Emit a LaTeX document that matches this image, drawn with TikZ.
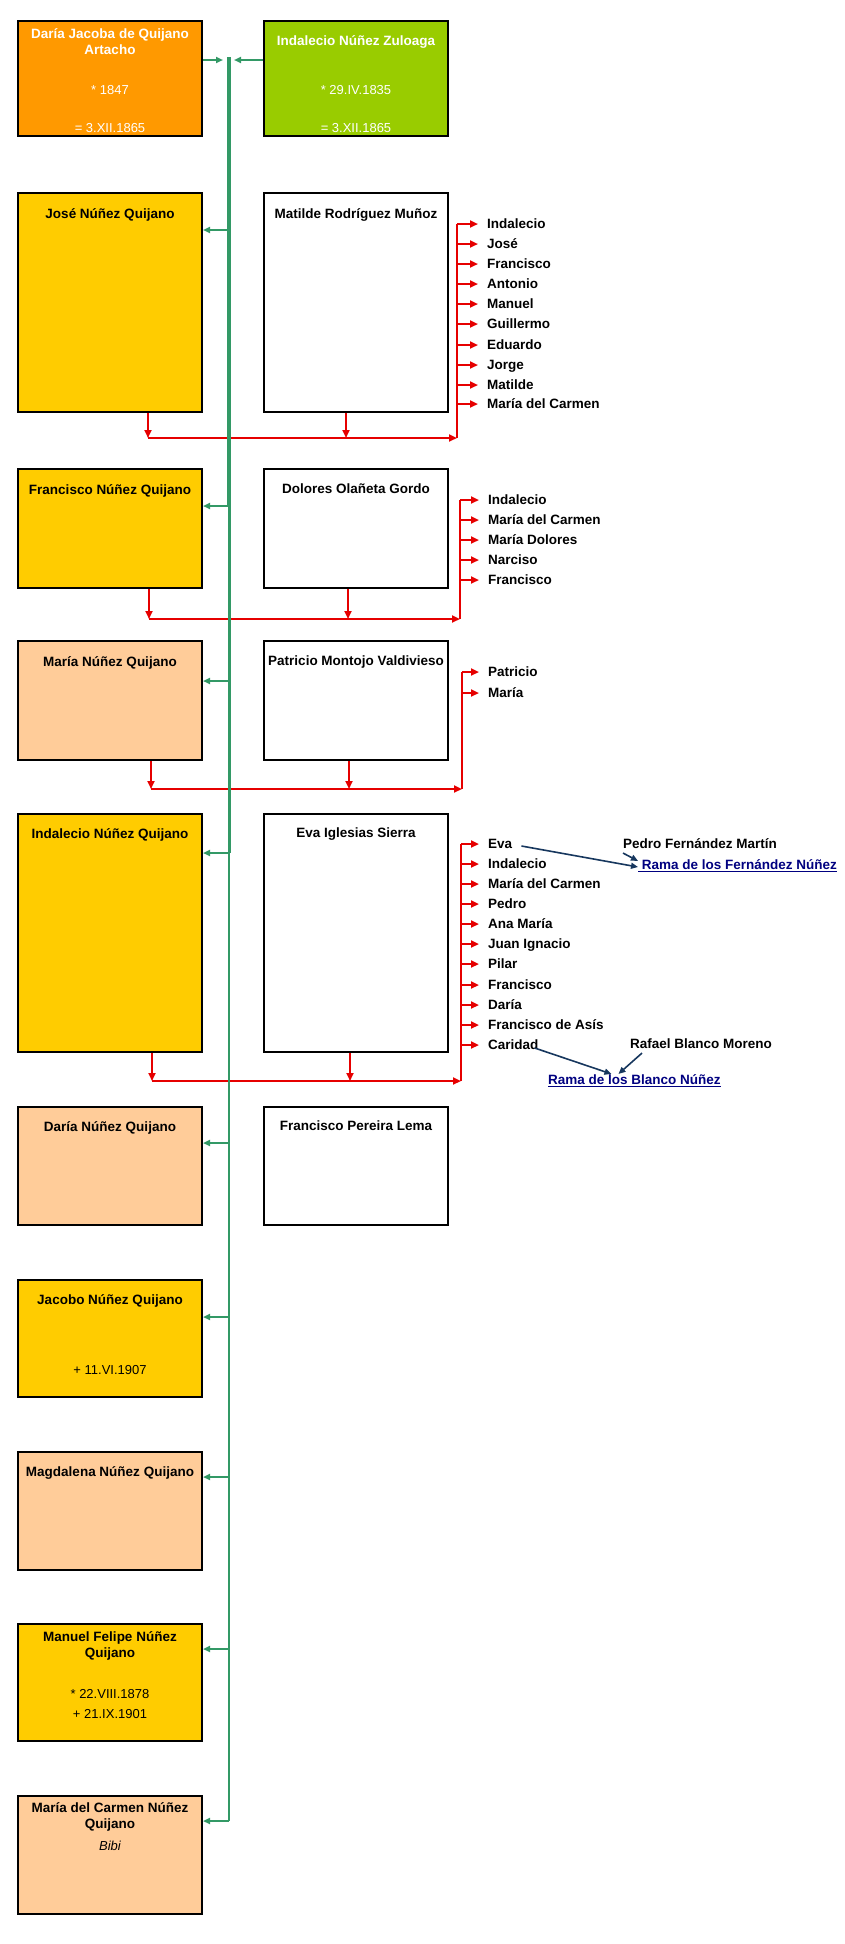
\documentclass[tikz,border=0pt]{standalone}
\usepackage{fontspec}
\setmainfont{Liberation Sans}
\usetikzlibrary{arrows.meta}

\definecolor{orangebox}{HTML}{FF9900}
\definecolor{limebox}{HTML}{99CC00}
\definecolor{sonbox}{HTML}{FFCC00}
\definecolor{daughterbox}{HTML}{FFCC99}
\definecolor{trunkgreen}{HTML}{339966}
\definecolor{famred}{HTML}{E60000}
\definecolor{navyline}{HTML}{17375E}
\definecolor{linkblue}{HTML}{000080}

\newcommand{\boxnamefont}{\fontsize{13.5}{16}\selectfont\bfseries}
\newcommand{\boxdatefont}{\fontsize{13}{16}\selectfont}

\tikzset{
  person/.style={draw=black, line width=2, anchor=north west, minimum width=184, inner sep=0},
  nametext/.style={anchor=north, inner sep=0, align=center, font=\boxnamefont},
  datetext/.style={anchor=base, inner sep=0, font=\boxdatefont},
  kidname/.style={anchor=west, inner sep=0, text height=9.7, text depth=0, font=\boxnamefont},
  linktext/.style={kidname, text=linkblue},
  trunk/.style={trunkgreen, line width=2},
  kid/.style={trunk, -{Triangle[length=7,width=6]}},
  fam/.style={famred, line width=2},
  famarr/.style={fam, -{Triangle[length=8,width=7]}},
  wed/.style={navyline, line width=1.6, -{Triangle[length=7,width=6]}}
}

\begin{document}
\begin{tikzpicture}[x=1pt, y=-1pt]
\useasboundingbox (0,0) rectangle (845,1944);
%Parents
\node[person, fill=orangebox, minimum height=115] (dariaJ) at (17,20) {};
\node[person, fill=limebox, minimum height=115] (indalZ) at (263,20) {};
\node[nametext, text=white] (dariaJ-n) at ([yshift=-8]dariaJ.north) {Daría Jacoba de Quijano\\Artacho};
\node[datetext, text=white] (dariaJ-b) at ([yshift=-74]dariaJ.north) {* 1847};
\node[datetext, text=white] (dariaJ-w) at ([yshift=-112]dariaJ.north) {= 3.XII.1865};
\node[nametext, text=white] (indalZ-n) at ([yshift=-15]indalZ.north) {Indalecio Núñez Zuloaga};
\node[datetext, text=white] (indalZ-b) at ([yshift=-74]indalZ.north) {* 29.IV.1835};
\node[datetext, text=white] (indalZ-w) at ([yshift=-112]indalZ.north) {= 3.XII.1865};
%Children and spouses
\node[person, fill=sonbox, minimum height=219] (jose) at (17,192) {};
\node[person, fill=white, minimum height=219] (matilde) at (263,192) {};
\node[person, fill=sonbox, minimum height=119] (francisco) at (17,468) {};
\node[person, fill=white, minimum height=119] (dolores) at (263,468) {};
\node[person, fill=daughterbox, minimum height=119] (maria) at (17,640) {};
\node[person, fill=white, minimum height=119] (patricio) at (263,640) {};
\node[person, fill=sonbox, minimum height=238] (indalecio) at (17,813) {};
\node[person, fill=white, minimum height=238] (eva) at (263,813) {};
\node[person, fill=daughterbox, minimum height=118] (dariaN) at (17,1106) {};
\node[person, fill=white, minimum height=118] (pereira) at (263,1106) {};
\node[person, fill=sonbox, minimum height=117] (jacobo) at (17,1279) {};
\node[person, fill=daughterbox, minimum height=118] (magdalena) at (17,1451) {};
\node[person, fill=sonbox, minimum height=117] (manuel) at (17,1623) {};
\node[person, fill=daughterbox, minimum height=118] (carmen) at (17,1795) {};
%Text
\node[nametext] (jose-n) at ([yshift=-16]jose.north) {José Núñez Quijano};
\node[nametext] (matilde-n) at ([yshift=-16]matilde.north) {Matilde Rodríguez Muñoz};
\node[nametext] (francisco-n) at ([yshift=-16]francisco.north) {Francisco Núñez Quijano};
\node[nametext] (dolores-n) at ([yshift=-16]dolores.north) {Dolores Olañeta Gordo};
\node[nametext] (maria-n) at ([yshift=-16]maria.north) {María Núñez Quijano};
\node[nametext] (patricio-n) at ([yshift=-16]patricio.north) {Patricio Montojo Valdivieso};
\node[nametext] (indalecio-n) at ([yshift=-15]indalecio.north) {Indalecio Núñez Quijano};
\node[nametext] (eva-n) at ([yshift=-15]eva.north) {Eva Iglesias Sierra};
\node[nametext] (dariaN-n) at ([yshift=-15]dariaN.north) {Daría Núñez Quijano};
\node[nametext] (pereira-n) at ([yshift=-15]pereira.north) {Francisco Pereira Lema};
\node[nametext] (jacobo-n) at ([yshift=-15]jacobo.north) {Jacobo Núñez Quijano};
\node[datetext] (jacobo-d) at ([yshift=-95]jacobo.north) {+ 11.VI.1907};
\node[nametext] (magdalena-n) at ([yshift=-15]magdalena.north) {Magdalena Núñez Quijano};
\node[nametext] (manuel-n) at ([yshift=-8]manuel.north) {Manuel Felipe Núñez\\Quijano};
\node[datetext] (manuel-b) at ([yshift=-75]manuel.north) {* 22.VIII.1878};
\node[datetext] (manuel-d) at ([yshift=-95]manuel.north) {+ 21.IX.1901};
\node[nametext] (carmen-n) at ([yshift=-7]carmen.north) {María del Carmen Núñez\\Quijano};
\node[datetext, font=\boxdatefont\itshape] (carmen-a) at ([yshift=-55]carmen.north) {Bibi};
%Families
\coordinate (f2) at (457,438);
\coordinate (f3) at (460,619);
\coordinate (f4) at (462,789);
\coordinate (f5) at (461,1081);
\draw[famarr] ([xshift=38]jose.south) -- ([xshift=38]jose.south |- f2);
\draw[famarr] ([xshift=-10]matilde.south) -- ([xshift=-10]matilde.south |- f2);
\draw[famarr] ([xshift=38]jose.south |- f2) -- (f2);
\draw[famarr] ([xshift=39]francisco.south) -- ([xshift=39]francisco.south |- f3);
\draw[famarr] ([xshift=-8]dolores.south) -- ([xshift=-8]dolores.south |- f3);
\draw[famarr] ([xshift=39]francisco.south |- f3) -- (f3);
\draw[famarr] ([xshift=41]maria.south) -- ([xshift=41]maria.south |- f4);
\draw[famarr] ([xshift=-7]patricio.south) -- ([xshift=-7]patricio.south |- f4);
\draw[famarr] ([xshift=41]maria.south |- f4) -- (f4);
\draw[famarr] ([xshift=42]indalecio.south) -- ([xshift=42]indalecio.south |- f5);
\draw[famarr] ([xshift=-6]eva.south) -- ([xshift=-6]eva.south |- f5);
\draw[famarr] ([xshift=42]indalecio.south |- f5) -- (f5);
%Grandchildren
\node[kidname] (jo1) at (487,224) {Indalecio};
\node[kidname] (jo2) at (487,244) {José};
\node[kidname] (jo3) at (487,264) {Francisco};
\node[kidname] (jo4) at (487,284) {Antonio};
\node[kidname] (jo5) at (487,304) {Manuel};
\node[kidname] (jo6) at (487,324) {Guillermo};
\node[kidname] (jo7) at (487,345) {Eduardo};
\node[kidname] (jo8) at (487,365) {Jorge};
\node[kidname] (jo9) at (487,385) {Matilde};
\node[kidname] (jo10) at (487,404) {María del Carmen};
\draw[fam] (f2) -- (f2 |- jo1.west);
\draw[famarr] (f2 |- jo1.west) -- ([xshift=-9]jo1.west);
\draw[famarr] (f2 |- jo2.west) -- ([xshift=-9]jo2.west);
\draw[famarr] (f2 |- jo3.west) -- ([xshift=-9]jo3.west);
\draw[famarr] (f2 |- jo4.west) -- ([xshift=-9]jo4.west);
\draw[famarr] (f2 |- jo5.west) -- ([xshift=-9]jo5.west);
\draw[famarr] (f2 |- jo6.west) -- ([xshift=-9]jo6.west);
\draw[famarr] (f2 |- jo7.west) -- ([xshift=-9]jo7.west);
\draw[famarr] (f2 |- jo8.west) -- ([xshift=-9]jo8.west);
\draw[famarr] (f2 |- jo9.west) -- ([xshift=-9]jo9.west);
\draw[famarr] (f2 |- jo10.west) -- ([xshift=-9]jo10.west);
\node[kidname] (fr1) at (488,500) {Indalecio};
\node[kidname] (fr2) at (488,520) {María del Carmen};
\node[kidname] (fr3) at (488,540) {María Dolores};
\node[kidname] (fr4) at (488,560) {Narciso};
\node[kidname] (fr5) at (488,580) {Francisco};
\draw[fam] (f3) -- (f3 |- fr1.west);
\draw[famarr] (f3 |- fr1.west) -- ([xshift=-9]fr1.west);
\draw[famarr] (f3 |- fr2.west) -- ([xshift=-9]fr2.west);
\draw[famarr] (f3 |- fr3.west) -- ([xshift=-9]fr3.west);
\draw[famarr] (f3 |- fr4.west) -- ([xshift=-9]fr4.west);
\draw[famarr] (f3 |- fr5.west) -- ([xshift=-9]fr5.west);
\node[kidname] (ma1) at (488,672) {Patricio};
\node[kidname] (ma2) at (488,693) {María};
\draw[fam] (f4) -- (f4 |- ma1.west);
\draw[famarr] (f4 |- ma1.west) -- ([xshift=-9]ma1.west);
\draw[famarr] (f4 |- ma2.west) -- ([xshift=-9]ma2.west);
\node[kidname] (in1) at (488,844) {Eva};
\node[kidname] (in2) at (488,864) {Indalecio};
\node[kidname] (in3) at (488,884) {María del Carmen};
\node[kidname] (in4) at (488,904) {Pedro};
\node[kidname] (in5) at (488,924) {Ana María};
\node[kidname] (in6) at (488,944) {Juan Ignacio};
\node[kidname] (in7) at (488,964) {Pilar};
\node[kidname] (in8) at (488,985) {Francisco};
\node[kidname] (in9) at (488,1005) {Daría};
\node[kidname] (in10) at (488,1025) {Francisco de Asís};
\node[kidname] (in11) at (488,1045) {Caridad};
\draw[fam] (f5) -- (f5 |- in1.west);
\draw[famarr] (f5 |- in1.west) -- ([xshift=-9]in1.west);
\draw[famarr] (f5 |- in2.west) -- ([xshift=-9]in2.west);
\draw[famarr] (f5 |- in3.west) -- ([xshift=-9]in3.west);
\draw[famarr] (f5 |- in4.west) -- ([xshift=-9]in4.west);
\draw[famarr] (f5 |- in5.west) -- ([xshift=-9]in5.west);
\draw[famarr] (f5 |- in6.west) -- ([xshift=-9]in6.west);
\draw[famarr] (f5 |- in7.west) -- ([xshift=-9]in7.west);
\draw[famarr] (f5 |- in8.west) -- ([xshift=-9]in8.west);
\draw[famarr] (f5 |- in9.west) -- ([xshift=-9]in9.west);
\draw[famarr] (f5 |- in10.west) -- ([xshift=-9]in10.west);
\draw[famarr] (f5 |- in11.west) -- ([xshift=-9]in11.west);
%Branches
\node[kidname] (pedroF) at (623,844) {Pedro Fernández Martín};
\node[linktext] (ramaF) at (638,865) {\underline{\ Rama de los Fernández Núñez}};
\node[kidname] (rafaelB) at (630,1044) {Rafael Blanco Moreno};
\node[linktext] (ramaB) at (548,1080) {\underline{Rama de los Blanco Núñez}};
\draw[wed] ([xshift=9,yshift=-2]in1.east) -- ([yshift=-2]ramaF.west);
\draw[wed] ([yshift=-4]pedroF.south west) -- ([xshift=0,yshift=-1]ramaF.north west);
\draw[wed] ([xshift=-4,yshift=-3]in11.east) -- ([xshift=-23,yshift=1]ramaB.north);
\draw[wed] ([xshift=12,yshift=-4]rafaelB.south west) -- ([xshift=-16,yshift=1]ramaB.north);
%Trunk
\coordinate (top) at (229,60);
\coordinate (t1) at (229,230);
\coordinate (t2) at (229,506);
\coordinate (t3) at (229,681);
\coordinate (t4) at (229,853);
\coordinate (t5) at (229,1143);
\coordinate (t6) at (229,1317);
\coordinate (t7) at (229,1477);
\coordinate (t8) at (229,1649);
\coordinate (t9) at (229,1821);
\draw[trunk, line width=4] ([yshift=3]top) -- (t2);
\draw[trunk, line width=3] (t2) -- (t4);
\draw[trunk] (t4) -- (t9);
\draw[kid] (dariaJ.east |- top) -- ([xshift=-6]top);
\draw[kid] (indalZ.west |- top) -- ([xshift=5]top);
\draw[kid] (t1) -- (jose.east |- t1);
\draw[kid] (t2) -- (francisco.east |- t2);
\draw[kid] (t3) -- (maria.east |- t3);
\draw[kid] (t4) -- (indalecio.east |- t4);
\draw[kid] (t5) -- (dariaN.east |- t5);
\draw[kid] (t6) -- (jacobo.east |- t6);
\draw[kid] (t7) -- (magdalena.east |- t7);
\draw[kid] (t8) -- (manuel.east |- t8);
\draw[kid] (t9) -- (carmen.east |- t9);
\end{tikzpicture}
\end{document}
